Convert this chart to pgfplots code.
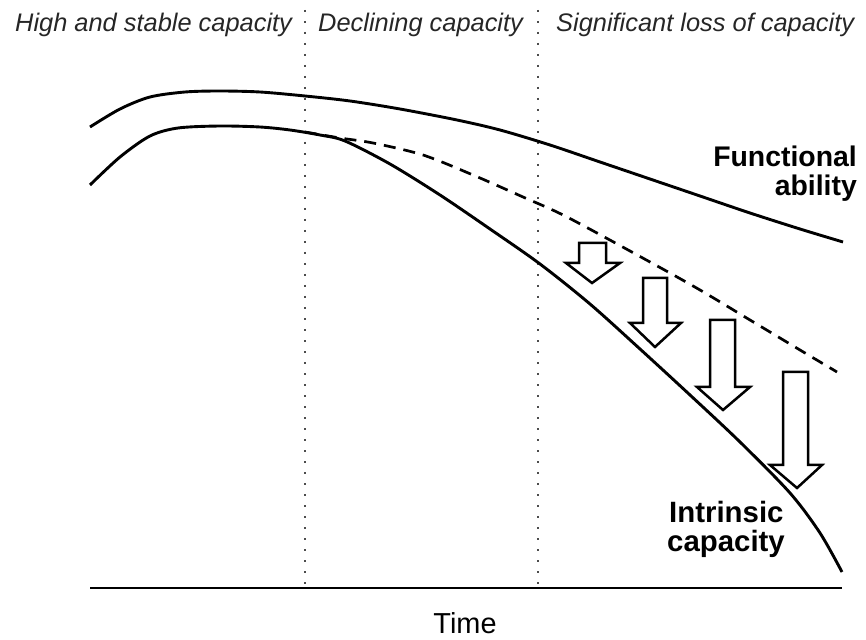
\documentclass[border=0pt]{standalone}
\usepackage{pgfplots}
\pgfplotsset{compat=1.18}
\usepackage{fontspec}
\setmainfont{Liberation Sans}
\begin{document}
\begin{tikzpicture}
\begin{axis}[
  width=866bp, height=640bp, scale only axis,
  xmin=0, xmax=866, ymin=0, ymax=640, y dir=reverse,
  axis lines=none, clip=false,
]
\path (axis cs:0,0) rectangle (axis cs:866,640);
% vertical dotted separators
\addplot[black!70, line width=2bp, dash pattern=on 2bp off 9bp] coordinates {(305,10) (305,590)};
\addplot[black!70, line width=2bp, dash pattern=on 2bp off 9bp] coordinates {(538,10) (538,590)};
% baseline
\addplot[black, line width=2.4bp] coordinates {(90,588) (842,588)};
% functional ability
\addplot[black, line width=2.9bp, smooth, tension=0.5] coordinates {
 (90,127) (120,109) (150,97) (185,92) (220,91) (260,92) (305,96) (350,101) (400,109)
 (457,120) (500,130) (550,145) (600,162) (650,179) (700,196) (750,213) (800,229) (843,242)};
% dashed
\addplot[black, line width=2.7bp, dash pattern=on 12bp off 8bp, smooth, tension=0.5] coordinates {
 (305,132) (340,138) (373,143) (423,155) (473,175) (523,197) (567,217) (650,262) (700,290) (750,320) (800,350) (837,372)};
% intrinsic capacity
\addplot[black, line width=2.9bp, smooth, tension=0.5] coordinates {
 (90,185) (120,157) (150,136) (178,128) (220,126) (260,127) (290,130) (320,135) (345,141)
 (390,164) (440,195) (490,229) (540,264) (590,304) (640,349) (690,395) (740,442) (790,493) (820,533) (842,572)};
% arrows
\addplot[black, line width=2.5bp, fill=white, line join=miter] coordinates {
 (579,243) (606,243) (606,263) (620,263) (592,283) (566,263) (579,263)} -- cycle;
\addplot[black, line width=2.5bp, fill=white, line join=miter] coordinates {
 (643,278) (667,278) (667,323) (681,323) (655,347) (630,323) (643,323)} -- cycle;
\addplot[black, line width=2.5bp, fill=white, line join=miter] coordinates {
 (710,320) (735,320) (735,387) (750,387) (723,410) (697,387) (710,387)} -- cycle;
\addplot[black, line width=2.5bp, fill=white, line join=miter] coordinates {
 (783,372) (808,372) (808,465) (822,465) (797,488) (770,465) (783,465)} -- cycle;
% header
\node[inner sep=0pt, anchor=base west, font=\fontsize{25.5}{28}\selectfont\itshape, text=black!85] at (axis cs:15,32) {High and stable capacity};
\node[inner sep=0pt, anchor=base west, font=\fontsize{25.5}{28}\selectfont\itshape, text=black!85] at (axis cs:318,32) {Declining capacity};
\node[inner sep=0pt, anchor=base west, font=\fontsize{25.5}{28}\selectfont\itshape, text=black!85] at (axis cs:556,32) {Significant loss of capacity};
% labels
\node[inner sep=0pt, anchor=base east, font=\fontsize{28.5}{30}\selectfont\bfseries] at (axis cs:857,167) {Functional};
\node[inner sep=0pt, anchor=base east, font=\fontsize{28.5}{30}\selectfont\bfseries] at (axis cs:857,196) {ability};
\node[inner sep=0pt, anchor=base west, font=\fontsize{29.5}{30}\selectfont\bfseries] at (axis cs:669,523) {Intrinsic};
\node[inner sep=0pt, anchor=base west, font=\fontsize{29.5}{30}\selectfont\bfseries] at (axis cs:667,552) {capacity};
\node[inner sep=0pt, anchor=base, font=\fontsize{29}{30}\selectfont] at (axis cs:465,634) {Time};
\end{axis}
\end{tikzpicture}
\end{document}
